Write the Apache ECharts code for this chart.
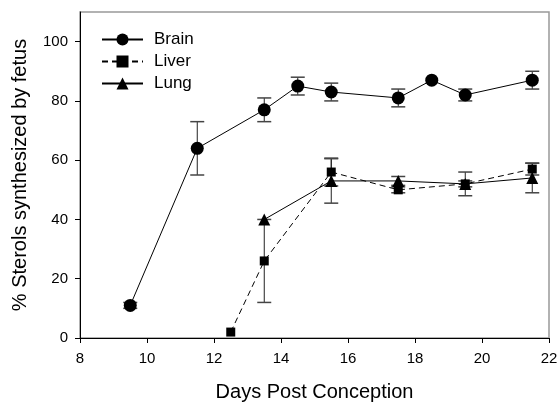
<!DOCTYPE html>
<html>
<head>
<meta charset="utf-8">
<script src="https://cdn.jsdelivr.net/npm/echarts@6/dist/echarts.min.js"></script>
<style>html,body{margin:0;padding:0;background:#fff;}#c{width:558px;height:402px;}</style>
</head>
<body>
<div id="c"></div>
<script>
const xTicks = [8, 10, 12, 14, 16, 18, 20, 22];
const yTicks = [0, 20, 40, 60, 80, 100];

const brainDays = [9.5, 11.5, 13.5, 14.5, 15.5, 17.5, 18.5, 19.5, 21.5];
const brainVals = [11, 64, 77, 85, 83, 81, 87, 82, 87];
const brainErr  = [1, 9, 4, 3, 3, 3, 0, 2, 3];

const liverDays = [12.5, 13.5, 15.5, 17.5, 19.5, 21.5];
const liverVals = [2, 26, 56, 50, 52, 57];
const liverErr  = [0, 14, 4.7, 1, 1, 2];

const lungDays = [13.5, 15.5, 17.5, 19.5, 21.5];
const lungVals = [40, 53, 53, 52, 54];
const lungErr  = [0, 7.5, 1.5, 4, 5];

const FONT = 'Liberation Sans, Arial, sans-serif';

function pts(d, v) { return d.map((x, i) => [x, v[i]]); }
function errs(d, v, e) { return d.map((x, i) => [x, v[i] - e[i], v[i] + e[i]]).filter((r, i) => e[i] > 0); }

function errSeries(data) {
  return {
    type: 'custom',
    z: 1,
    silent: true,
    data: data,
    renderItem: function (params, api) {
      const x = api.value(0);
      const lo = api.coord([x, api.value(1)]);
      const hi = api.coord([x, api.value(2)]);
      const w = 7;
      const st = { stroke: '#222', lineWidth: 1 };
      const cs = { stroke: '#444', lineWidth: 1.5 };
      return {
        type: 'group',
        children: [
          { type: 'line', shape: { x1: lo[0], y1: lo[1], x2: hi[0], y2: hi[1] }, style: st },
          { type: 'line', shape: { x1: lo[0] - w, y1: lo[1], x2: lo[0] + w, y2: lo[1] }, style: cs },
          { type: 'line', shape: { x1: hi[0] - w, y1: hi[1], x2: hi[0] + w, y2: hi[1] }, style: cs }
        ]
      };
    }
  };
}

const chart = echarts.init(document.getElementById('c'), null, { renderer: 'canvas' });
chart.setOption({
  animation: false,
  backgroundColor: '#fff',
  textStyle: { fontFamily: FONT, color: '#000' },
  grid: { left: 80, right: 9, top: 12, bottom: 64, outerBoundsMode: 'none', containLabel: false,
          show: true, borderColor: '#999', borderWidth: 1.5, backgroundColor: 'transparent' },
  legend: {
    data: ['Brain', 'Liver', 'Lung'],
    orient: 'vertical',
    left: 96,
    top: 26,
    itemWidth: 41,
    itemHeight: 15,
    itemGap: 5,
    textStyle: { fontSize: 17, color: '#000', fontFamily: FONT, padding: [0, 0, 0, 6] }
  },
  xAxis: {
    type: 'value', min: 8, max: 22, interval: 2,
    name: 'Days Post Conception', nameLocation: 'middle', nameGap: 44,
    nameTextStyle: { fontSize: 20, color: '#000', fontFamily: FONT },
    axisLine: { show: true, lineStyle: { color: '#000', width: 1 } },
    axisTick: { show: true, length: 5, inside: false, lineStyle: { color: '#000' } },
    axisLabel: { fontSize: 15, color: '#000', margin: 13, fontFamily: FONT },
    splitLine: { show: false }
  },
  yAxis: {
    type: 'value', min: 0, max: 110, interval: 20,
    name: '% Sterols synthesized by fetus', nameLocation: 'middle', nameGap: 50,
    nameTextStyle: { fontSize: 20, color: '#000', fontFamily: FONT },
    axisLine: { show: true, lineStyle: { color: '#000', width: 1 } },
    axisTick: { show: true, length: 5, customValues: yTicks, lineStyle: { color: '#000' } },
    axisLabel: { fontSize: 15, color: '#000', margin: 12, customValues: yTicks, fontFamily: FONT },
    splitLine: { show: false }
  },
  series: [
    errSeries(errs(brainDays, brainVals, brainErr)),
    errSeries(errs(liverDays, liverVals, liverErr)),
    errSeries(errs(lungDays, lungVals, lungErr)),
    {
      name: 'Brain', type: 'line', z: 3, data: pts(brainDays, brainVals),
      symbol: 'circle', symbolSize: 13,
      lineStyle: { color: '#000', width: 1 },
      itemStyle: { color: '#000' }
    },
    {
      name: 'Liver', type: 'line', z: 3, data: pts(liverDays, liverVals),
      symbol: 'rect', symbolSize: 9,
      lineStyle: { color: '#000', width: 1, type: [6, 4] },
      itemStyle: { color: '#000' }
    },
    {
      name: 'Lung', type: 'line', z: 3, data: pts(lungDays, lungVals),
      symbol: 'triangle', symbolSize: 12,
      lineStyle: { color: '#000', width: 1 },
      itemStyle: { color: '#000' }
    }
  ]
});
</script>
</body>
</html>
